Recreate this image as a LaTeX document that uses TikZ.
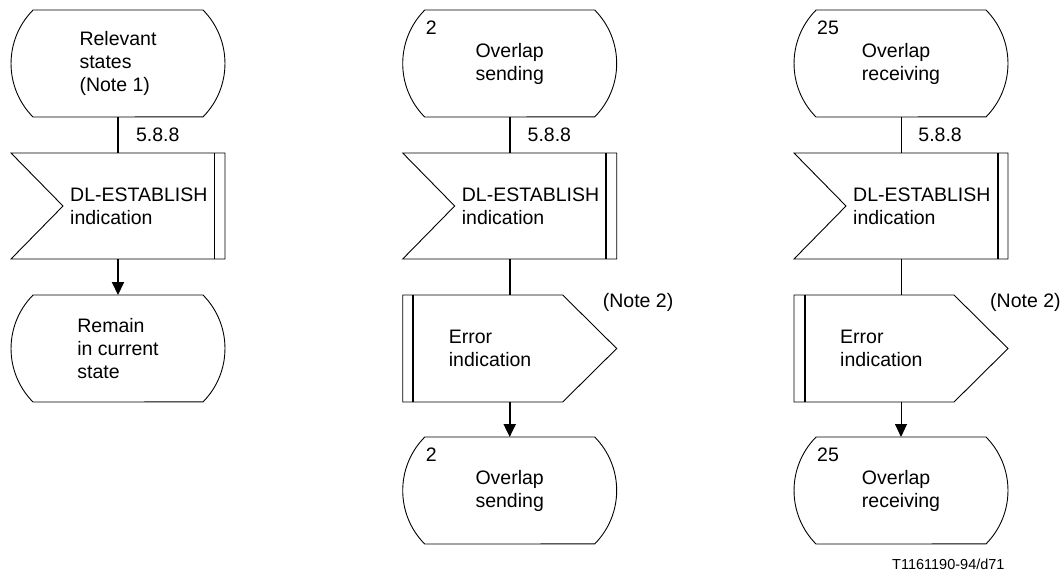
\documentclass[tikz,border=0pt]{standalone}
\usepackage{fontspec}
\setmainfont{Liberation Sans}
\usetikzlibrary{positioning,arrows.meta}

% SDL symbols drawn round a named node
\newcommand{\drawstate}[1]{%
  \draw[outline] ([xshift=22pt]#1.north west) -- ([xshift=-22pt]#1.north east)
    arc[start angle=44.7,end angle=-44.7,radius=76pt]
    -- ([xshift=22pt]#1.south west)
    arc[start angle=224.7,end angle=135.3,radius=76pt] -- cycle;}
\newcommand{\drawinput}[2]{%
  \draw[outline] (#1.north west) -- (#1.north east) -- (#1.south east)
    -- (#1.south west) -- ([xshift=52pt]#1.west) -- cycle;
  \draw[#2] ([xshift=-10.5pt]#1.north east) -- ([xshift=-10.5pt]#1.south east);}
\newcommand{\drawoutput}[1]{%
  \draw[outline] (#1.north west) -- ([xshift=-54pt]#1.north east) -- (#1.east)
    -- ([xshift=-54pt]#1.south east) -- (#1.south west) -- cycle;
  \draw[bar] ([xshift=10.5pt]#1.north west) -- ([xshift=10.5pt]#1.south west);}

\begin{document}
\begin{tikzpicture}[
  x=1pt, y=1pt,
  every node/.style={font=\fontsize{19.5}{23}\selectfont},
  statebox/.style={minimum width=214pt, minimum height=107pt, inner sep=0pt, outer sep=0pt, align=left},
  sigbox/.style={minimum width=214pt, minimum height=106pt, inner sep=0pt, outer sep=0pt},
  txt/.style={inner sep=0pt, align=left},
  num/.style={inner sep=0pt, anchor=north west},
  outline/.style={line width=0.9pt},
  bar/.style={line width=2pt},
  flow/.style={line width=2pt},
  thinflow/.style={line width=0.9pt},
  tip/.style={-{Triangle[length=13pt,width=12pt]}},
  lbl/.style={inner sep=0pt, midway, right=17pt},
  node distance=36pt
]
\useasboundingbox (0,0) rectangle (1064,-576);

% left column
\node[statebox] (s1) at (118,-63.5) {Relevant\\states\\(Note 1)};
\node[sigbox, below=of s1] (in1) {};
\node[statebox, below=of in1] (r1) {Remain\\in current\\state};
\node[txt, right=59pt of in1.west] (in1t) {DL-ESTABLISH\\indication};
\drawstate{s1}
\drawinput{in1}{outline}
\drawstate{r1}
\draw[flow] (s1) -- (in1) node[lbl] {5.8.8};
\draw[flow, tip] (in1) -- (r1);

% middle column
\node[statebox] (s2) at (509.7,-63.5) {Overlap\\sending};
\node[num] (s2n) at ([xshift=23pt,yshift=-11pt]s2.north west) {2};
\node[sigbox, below=of s2] (in2) {};
\node[txt, right=59pt of in2.west] (in2t) {DL-ESTABLISH\\indication};
\node[sigbox, below=of in2, minimum height=107pt] (out2) {};
\node[txt, right=46pt of out2.west] (out2t) {Error\\indication};
\node[txt, anchor=west] (note2) at ([xshift=-14pt,yshift=-7.5pt]out2.north east) {(Note 2)};
\node[statebox, below=35pt of out2] (e2) {Overlap\\sending};
\node[num] (e2n) at ([xshift=23pt,yshift=-11pt]e2.north west) {2};
\drawstate{s2}
\drawinput{in2}{bar}
\drawoutput{out2}
\drawstate{e2}
\draw[flow] (s2) -- (in2) node[lbl] {5.8.8};
\draw[flow] (in2) -- (out2);
\draw[flow, tip] (out2) -- (e2);

% right column
\node[statebox] (s3) at (901,-63.5) {Overlap\\receiving};
\node[num] (s3n) at ([xshift=23pt,yshift=-11pt]s3.north west) {25};
\node[sigbox, below=of s3] (in3) {};
\node[txt, right=59pt of in3.west] (in3t) {DL-ESTABLISH\\indication};
\node[sigbox, below=of in3, minimum height=107pt] (out3) {};
\node[txt, right=46pt of out3.west] (out3t) {Error\\indication};
\node[txt, anchor=west] (note3) at ([xshift=-18pt,yshift=-7.5pt]out3.north east) {(Note 2)};
\node[statebox, below=35pt of out3] (e3) {Overlap\\receiving};
\node[num] (e3n) at ([xshift=23pt,yshift=-11pt]e3.north west) {25};
\drawstate{s3}
\drawinput{in3}{bar}
\drawoutput{out3}
\drawstate{e3}
\draw[thinflow] (s3) -- (in3) node[lbl] {5.8.8};
\draw[thinflow] (in3) -- (out3);
\draw[thinflow, tip] (out3) -- (e3);

\node[txt, anchor=west, font=\fontsize{14.5}{17}\selectfont] (fig) at ([xshift=-9pt,yshift=-20pt]e3.south) {T1161190-94/d71};
\end{tikzpicture}
\end{document}
